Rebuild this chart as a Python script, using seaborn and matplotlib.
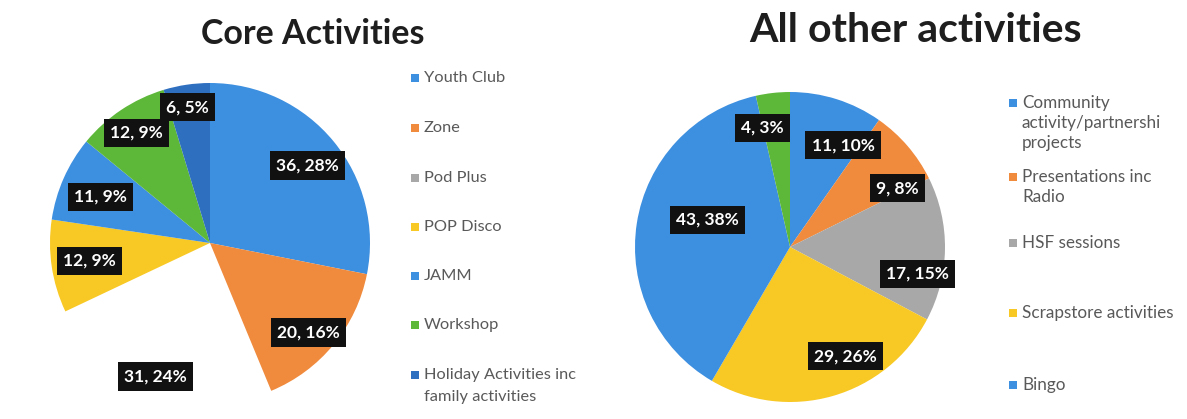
import numpy as np
import matplotlib
matplotlib.use("Agg")
import matplotlib.pyplot as plt
from matplotlib.patches import Rectangle
import seaborn as sns

sns.set_theme(style="white")
plt.rcParams["font.family"] = ["Lato", "DejaVu Sans"]

# ---- data -------------------------------------------------------------
core_labels = ["Youth Club", "Zone", "Pod Plus", "POP Disco", "JAMM", "Workshop",
               "Holiday Activities inc\nfamily activities"]
core_values = [36, 20, 31, 12, 11, 12, 6]
core_pcts = [28, 16, 24, 9, 9, 9, 5]

other_labels = ["Community\nactivity/partnershi\nprojects", "Presentations inc\nRadio",
                "HSF sessions", "Scrapstore activities", "Bingo"]
other_values = [11, 9, 17, 29, 43, 4]
other_pcts = [10, 8, 15, 26, 38, 3]

# ---- styling ----------------------------------------------------------
BLUE = "#3d8fe0"
ORANGE = "#f08a3c"
GRAY = "#a8a8a8"
YELLOW = "#f8c824"
GREEN = "#5db83a"
DARKBLUE = "#2f6fc0"

core_colors = [BLUE, ORANGE, GRAY, YELLOW, BLUE, GREEN, DARKBLUE]
other_colors = [BLUE, ORANGE, GRAY, YELLOW, BLUE, GREEN]

# label placement (fraction of radius, clockwise angle shift in degrees)
core_label_r = [0.78, 0.83, 0.90, 0.76, 0.74, 0.83, 0.86]
core_label_shift = [1, 3, 1, 0, -1, 0, -1]
other_label_r = [0.74, 0.79, 0.84, 0.79, 0.56, 0.79]
other_label_shift = [10, 12, 11, -11, 9.5, -6.6]

W, H = 1187, 419
fig = plt.figure(figsize=(W / 100, H / 100), dpi=100)
fig.patch.set_facecolor("white")


def px_axes(cx, cy, r):
    return fig.add_axes([(cx - r) / W, 1 - (cy + r) / H, 2 * r / W, 2 * r / H])


def draw_pie(ax, values, pcts, colors, label_r, label_shift, hidden=()):
    wedges, _ = ax.pie(values, colors=colors, startangle=90, counterclock=False,
                       radius=1.0, wedgeprops=dict(linewidth=0, edgecolor="none"))
    for i in hidden:
        wedges[i].set_visible(False)
    for w, v, p, r, s in zip(wedges, values, pcts, label_r, label_shift):
        ang = np.deg2rad((w.theta1 + w.theta2) / 2 - s)
        ax.text(r * np.cos(ang), r * np.sin(ang), f"{v}, {p}%", ha="center", va="center",
                color="white", fontsize=12.5, fontweight="bold",
                bbox=dict(boxstyle="square,pad=0.35", fc="#111111", ec="none"))
    ax.set_xlim(-1, 1)
    ax.set_ylim(-1, 1)
    ax.set_aspect("auto")
    ax.axis("off")


ax1 = px_axes(210, 243, 160)
draw_pie(ax1, core_values, core_pcts, core_colors, core_label_r, core_label_shift, hidden=(2,))

ax2 = px_axes(790, 247, 155)
draw_pie(ax2, other_values, other_pcts, other_colors, other_label_r, other_label_shift)

# ---- titles -----------------------------------------------------------
fig.text(313 / W, 1 - 34 / H, "Core Activities", ha="center", va="center",
         fontsize=24.5, fontweight="bold", color="#1e1e1e")
fig.text(916 / W, 1 - 31 / H, "All other activities", ha="center", va="center",
         fontsize=29.5, fontweight="bold", color="#1e1e1e")


# ---- legends ----------------------------------------------------------
def legend_block(mx, tx, y, color, text, size, step):
    s = 8
    fig.patches.append(Rectangle(((mx - s / 2) / W, 1 - (y + s / 2) / H), s / W, s / H,
                                 transform=fig.transFigure, facecolor=color,
                                 edgecolor="none"))
    for k, line in enumerate(text.split("\n")):
        fig.text(tx / W, 1 - (y + k * step) / H, line, ha="left", va="center",
                 fontsize=size, color="#595959")


core_legend_y = [78, 128, 178, 227, 276, 325, 375]
for y, c, lab in zip(core_legend_y, core_colors, core_labels):
    legend_block(415, 424, y, c, lab, 11.8, 22)

other_legend_y = [103, 177, 243, 313, 385]
for y, c, lab in zip(other_legend_y, other_colors, other_labels):
    legend_block(1013, 1022, y, c, lab, 12.3, 20)

fig.savefig("out.png", dpi=100, facecolor="white")
